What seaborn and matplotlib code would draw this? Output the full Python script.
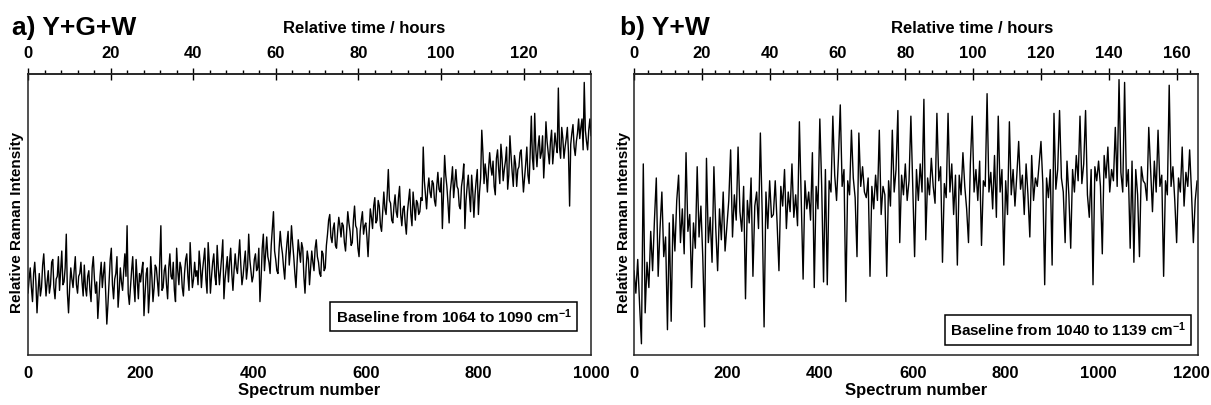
import numpy as np
import pandas as pd
import matplotlib
matplotlib.use("Agg")
import matplotlib.pyplot as plt
from matplotlib.ticker import MultipleLocator, FixedLocator
import seaborn as sns

# ---------------- data (relative Raman intensity, 0 = bottom of axis, 100 = top) ----------------
A_STEP = 2
A_VALUES = [
    # 0-98
    22, 27, 31, 24, 19, 29, 33, 26, 15, 23,
    29, 21, 24, 32, 36, 28, 21, 26, 30, 22,
    25, 33, 34, 24, 20, 27, 28, 35, 23, 30,
    37, 25, 26, 31, 43, 22, 15, 24, 31, 27,
    24, 30, 35, 25, 22, 28, 29, 33, 26, 21,
    # 100-198
    32, 24, 21, 28, 30, 23, 19, 31, 35, 27,
    22, 26, 13, 20, 28, 33, 24, 29, 33, 22,
    11, 18, 26, 34, 38, 25, 20, 27, 29, 35,
    17, 23, 31, 26, 23, 30, 36, 28, 46, 22,
    18, 24, 30, 35, 25, 19, 34, 27, 20, 29,
    # 200-298
    26, 30, 33, 14, 22, 29, 31, 15, 22, 35,
    28, 19, 24, 32, 31, 26, 21, 34, 46, 23,
    24, 30, 32, 25, 20, 31, 36, 28, 27, 33,
    23, 19, 38, 30, 25, 33, 31, 24, 21, 29,
    34, 36, 28, 23, 40, 31, 24, 27, 33, 28,
    # 300-398
    30, 25, 37, 32, 24, 30, 34, 38, 27, 22,
    40, 33, 22, 28, 33, 36, 28, 25, 39, 31,
    25, 30, 35, 41, 20, 27, 31, 35, 26, 33,
    38, 29, 23, 30, 36, 31, 29, 35, 41, 32,
    25, 28, 33, 37, 27, 31, 43, 34, 30, 26,
    # 400-498
    28, 34, 36, 30, 31, 38, 19, 27, 38, 43,
    30, 36, 42, 35, 33, 29, 39, 45, 51, 37,
    34, 30, 29, 38, 44, 39, 36, 31, 27, 35,
    40, 44, 32, 37, 46, 40, 35, 29, 24, 33,
    41, 37, 33, 40, 38, 28, 22, 31, 37, 34,
    # 500-598
    25, 31, 37, 33, 30, 38, 41, 35, 33, 29,
    28, 37, 36, 30, 31, 39, 43, 48, 50, 42,
    40, 45, 47, 39, 38, 44, 49, 46, 42, 47,
    46, 40, 37, 44, 51, 47, 44, 39, 40, 48,
    53, 46, 45, 38, 35, 44, 48, 51, 43, 46,
    # 600-698
    47, 42, 35, 44, 52, 49, 45, 53, 56, 47,
    48, 55, 53, 46, 44, 51, 58, 52, 50, 57,
    66, 55, 54, 48, 47, 53, 57, 51, 49, 56,
    60, 50, 46, 52, 53, 47, 43, 51, 55, 59,
    50, 46, 58, 53, 48, 55, 54, 50, 51, 56,
    # 700-798
    55, 74, 62, 57, 52, 59, 63, 58, 56, 62,
    61, 55, 53, 60, 65, 59, 58, 63, 45, 57,
    71, 64, 60, 54, 47, 58, 62, 67, 56, 61,
    66, 60, 59, 53, 52, 60, 63, 68, 45, 55,
    60, 64, 57, 51, 64, 58, 49, 57, 62, 66,
    # 800-898
    50, 58, 63, 80, 72, 61, 68, 64, 58, 66,
    72, 67, 64, 69, 60, 57, 70, 73, 66, 61,
    75, 70, 62, 66, 69, 74, 59, 64, 78, 71,
    65, 60, 71, 68, 60, 66, 67, 72, 73, 65,
    58, 63, 68, 74, 64, 61, 72, 85, 70, 66,
    # 900-998
    86, 73, 67, 74, 78, 70, 72, 78, 63, 71,
    83, 76, 72, 68, 76, 80, 68, 73, 79, 75,
    72, 95, 74, 70, 81, 77, 70, 74, 77, 81,
    72, 53, 75, 79, 82, 74, 71, 76, 79, 84,
    77, 81, 84, 73, 97, 80, 76, 73, 80, 84,
    # 1000
    78,
]
A_SPECTRUM = list(range(0, A_STEP * len(A_VALUES), A_STEP))

B_STEP = 4
B_VALUES = [
    # 0-96
    30, 22, 34, 18, 4, 68, 15, 33, 24, 44, 30, 48, 63, 28, 45, 58, 35, 42, 9, 47, 12, 50, 37, 55, 64,
    # 100-196
    40, 52, 36, 72, 44, 50, 24, 47, 38, 67, 42, 53, 35, 10, 70, 40, 49, 33, 67, 45, 30, 52, 41, 58, 37,
    # 200-296
    46, 55, 73, 42, 57, 48, 74, 51, 44, 60, 20, 55, 47, 63, 28, 53, 58, 45, 79, 50, 10, 58, 45, 62, 49,
    # 300-396
    50, 62, 47, 30, 60, 53, 66, 45, 58, 51, 68, 49, 57, 46, 83, 55, 27, 62, 52, 58, 48, 72, 24, 60, 52,
    # 400-496
    84, 60, 26, 66, 25, 62, 58, 85, 64, 55, 70, 89, 60, 66, 19, 62, 57, 80, 63, 56, 35, 79, 60, 67, 58,
    # 500-596
    56, 63, 28, 60, 52, 64, 55, 80, 50, 60, 57, 28, 62, 53, 80, 58, 66, 87, 40, 64, 57, 68, 55, 62, 85,
    # 600-696
    60, 35, 66, 55, 68, 58, 91, 41, 63, 57, 70, 60, 54, 86, 62, 67, 33, 61, 56, 86, 58, 68, 50, 64, 32,
    # 700-796
    64, 57, 72, 60, 52, 40, 68, 85, 58, 66, 55, 69, 39, 62, 60, 93, 58, 65, 52, 71, 49, 85, 58, 66, 32,
    # 800-896
    62, 50, 83, 57, 66, 53, 64, 76, 59, 64, 50, 68, 57, 42, 71, 55, 63, 60, 68, 76, 61, 25, 63, 56, 66,
    # 900-996
    32, 86, 59, 66, 87, 63, 58, 40, 69, 57, 38, 66, 58, 71, 62, 85, 61, 68, 87, 57, 49, 66, 25, 67, 62,
    # 1000-1096
    69, 60, 36, 71, 63, 74, 58, 66, 62, 81, 60, 98, 65, 58, 97, 60, 66, 38, 69, 33, 66, 57, 35, 67, 62,
    # 1100-1196
    61, 55, 81, 66, 51, 69, 58, 80, 60, 64, 28, 62, 57, 96, 60, 67, 55, 40, 63, 58, 74, 53, 65, 60, 73,
    # 1200-1212
    58, 40, 55, 62,
]
B_SPECTRUM = list(range(0, B_STEP * len(B_VALUES), B_STEP))

PANEL_TITLES = ["a) Y+G+W", "b) Y+W"]
BASELINE_LABELS = ["Baseline from 1064 to 1090 cm$^{-1}$", "Baseline from 1040 to 1139 cm$^{-1}$"]
X_MAX = [1000, 1214]
HOURS_PER_SPECTRUM = [0.1363, 0.137]
HOUR_TICKS = [[0, 20, 40, 60, 80, 100, 120], [0, 20, 40, 60, 80, 100, 120, 140, 160]]
HOUR_MAX = [136, 166]

# ---------------- style ----------------
sns.set_style("white")
plt.rcParams["font.family"] = ["Liberation Sans", "DejaVu Sans"]
plt.rcParams["font.weight"] = "bold"
plt.rcParams["mathtext.default"] = "regular"
plt.rcParams["text.color"] = "black"
plt.rcParams["axes.labelcolor"] = "black"
plt.rcParams["xtick.color"] = "black"
plt.rcParams["ytick.color"] = "black"

W, H = 1211, 405
fig = plt.figure(figsize=(W / 100, H / 100), dpi=100)

axes_px = [(28, 591), (634, 1198)]
top_px, bot_px = 74, 355

datasets = [
    pd.DataFrame({"Spectrum": A_SPECTRUM, "Intensity": A_VALUES}),
    pd.DataFrame({"Spectrum": B_SPECTRUM, "Intensity": B_VALUES}),
]
title_x = [12, 620]
toplabel_x = [364, 972]
ylabel_x = [17, 624]
box_pos = [(0.756, 0.137), (0.7695, 0.089)]

for i, df in enumerate(datasets):
    l, r = axes_px[i]
    ax = fig.add_axes([l / W, (H - bot_px) / H, (r - l) / W, (bot_px - top_px) / H])
    sns.lineplot(data=df, x="Spectrum", y="Intensity", ax=ax, color="black",
                 linewidth=1.0, estimator=None)
    ax.set_xlim(0, X_MAX[i])
    ax.set_ylim(0, 100)
    ax.set_yticks([])
    ax.set_ylabel("")
    ax.set_xlabel("Spectrum number", fontsize=12, fontweight="bold", labelpad=1, color="black")
    ax.xaxis.set_major_locator(MultipleLocator(200))
    ax.xaxis.set_minor_locator(MultipleLocator(50))
    ax.tick_params(axis="x", which="major", direction="inout", length=8, width=1.0,
                   labelsize=12, pad=4, colors="black")
    ax.tick_params(axis="x", which="minor", direction="out", length=3, width=1.0, colors="black")
    for lab in ax.get_xticklabels():
        lab.set_fontweight("bold")
    for sp in ax.spines.values():
        sp.set_visible(True)
        sp.set_linewidth(1.1)
        sp.set_color("#222222")

    k = HOURS_PER_SPECTRUM[i]
    sec = ax.secondary_xaxis("top", functions=(lambda s, k=k: s * k, lambda h, k=k: h / k))
    sec.xaxis.set_major_locator(FixedLocator(HOUR_TICKS[i]))
    sec.xaxis.set_minor_locator(FixedLocator(list(range(0, HOUR_MAX[i] + 1, 4))))
    sec.tick_params(axis="x", which="major", direction="inout", length=8, width=1.0,
                    labelsize=12, pad=5, colors="black")
    sec.tick_params(axis="x", which="minor", direction="out", length=3, width=1.0, colors="black")
    for lab in sec.get_xticklabels():
        lab.set_fontweight("bold")
    sec.spines["top"].set_linewidth(1.1)
    sec.spines["top"].set_color("#222222")

    ax.text(box_pos[i][0], box_pos[i][1], BASELINE_LABELS[i], transform=ax.transAxes,
            ha="center", va="center", fontsize=11, fontweight="bold", color="black",
            bbox=dict(boxstyle="square,pad=0.35", facecolor="white", edgecolor="black",
                      linewidth=1.1))

    fig.text(title_x[i] / W, (H - 35) / H, PANEL_TITLES[i], fontsize=19, fontweight="bold",
             ha="left", va="baseline", color="black")
    fig.text(toplabel_x[i] / W, (H - 33) / H, "Relative time / hours", fontsize=12,
             fontweight="bold", ha="center", va="baseline", color="black")
    fig.text(ylabel_x[i] / W, (H - 222) / H, "Relative Raman Intensity", fontsize=11,
             fontweight="bold", rotation=90, ha="center", va="center", color="black")

fig.savefig("out.png", dpi=100)
